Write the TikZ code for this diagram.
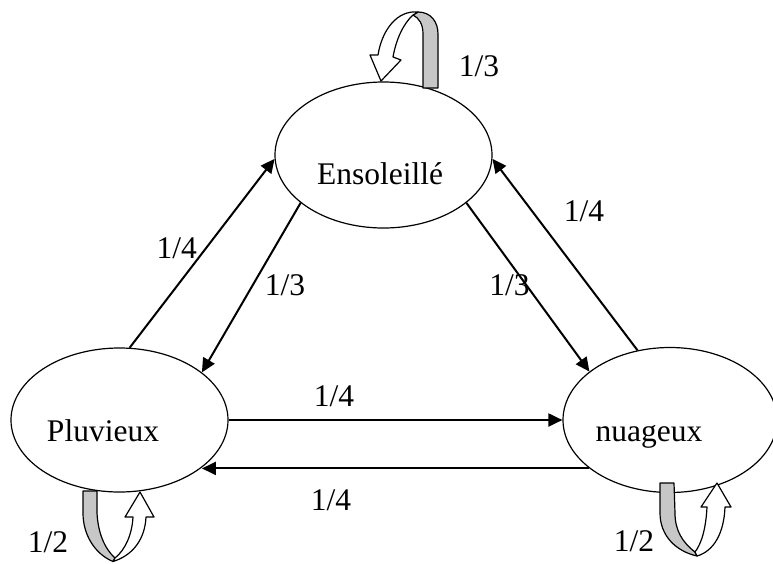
\documentclass[tikz,border=0pt]{standalone}
\usepackage{fontspec}
\setmainfont{Liberation Serif}
\usetikzlibrary{arrows.meta,shapes.geometric}
\begin{document}
\begin{tikzpicture}[x=1pt,y=-1pt,
  state/.style={draw, ellipse, line width=1.2pt, inner sep=0pt},
  trans/.style={line width=2pt, -{Triangle[length=14pt,width=13pt]}},
  txt/.style={anchor=base, inner sep=0pt, font=\fontsize{31.5}{38}\selectfont},
  band/.style={draw, line width=1.2pt, line join=round, fill=black!22},
  front/.style={draw, line width=1.2pt, line join=round, fill=white}]
\useasboundingbox (0,0) rectangle (773,563);

% states of the weather chain
\node[state, minimum width=217pt, minimum height=146pt] (ens) at (383.5,155) {};
\node[state, minimum width=217pt, minimum height=144pt] (plu) at (119.5,420) {};
\node[state, minimum width=214pt, minimum height=145pt] (nua) at (670,420) {};

\node[txt] (ens-name) at (380,184) {Ensoleillé};
\node[txt] (plu-name) at (103,441.7) {Pluvieux};
\node[txt] (nua-name) at (649,441.7) {nuageux};

% transitions between states
\draw[trans] (plu.82) -- (ens.182);
\draw[trans] (ens.210) -- (plu.30);
\draw[trans] (nua.115) -- (ens.358);
\draw[trans] (ens.330) -- (nua.149);
\draw[trans] (plu.0) -- (nua.180);
\draw[trans] (nua.211) -- (nua.211 -| plu.330);

% transition probabilities
\node[txt] (p-pe) at (176.7,258.3) {1/4};
\node[txt] (p-ep) at (285,295) {1/3};
\node[txt] (p-ne) at (584,221.7) {1/4};
\node[txt] (p-en) at (509.5,295) {1/3};
\node[txt] (p-pn) at (334,406.7) {1/4};
\node[txt] (p-np) at (331,510) {1/4};
\node[txt] (p-ee) at (479,76.7) {1/3};
\node[txt] (p-pp) at (48,552.7) {1/2};
\node[txt] (p-nn) at (634,551.7) {1/2};

% self-loop on Ensoleille: shaded back band, white front with head
\path[band] (423,88) -- (423,34) .. controls (423,24) and (419,18) .. (413,15)
  -- (418,12) .. controls (431,12) and (438,22) .. (438,34) -- (438,88) -- cycle;
\path[front] (418,12) .. controls (397,10) and (382,30) .. (378,55) -- (370,55)
  -- (381,81) -- (401,60) -- (393,57) .. controls (396,40) and (403,24) .. (413,15) -- cycle;

% self-loop on Pluvieux
\path[band] (83,491) -- (83,513) .. controls (83,535) and (95,554) .. (113,561.5)
  -- (115,558) .. controls (104,548) and (98,532) .. (97,513) -- (97,491) -- cycle;
\path[front] (115,558) .. controls (125,550) and (132,535) .. (133,517) -- (125,517)
  -- (140,492) -- (154,517) -- (146,517) .. controls (145,538) and (134,555) .. (113,561.5) -- cycle;

% self-loop on nuageux
\path[band] (660,483) -- (660,513) .. controls (660,535) and (675,551) .. (697,556)
  -- (695,552) .. controls (682,542) and (675,530) .. (675,513) -- (674,483) -- cycle;
\path[front] (695,552) .. controls (702,543) and (706,527) .. (707,507) -- (701,507)
  -- (717,483) -- (731,507) -- (725,507) .. controls (724,533) and (714,551) .. (697,556) -- cycle;
\end{tikzpicture}
\end{document}
